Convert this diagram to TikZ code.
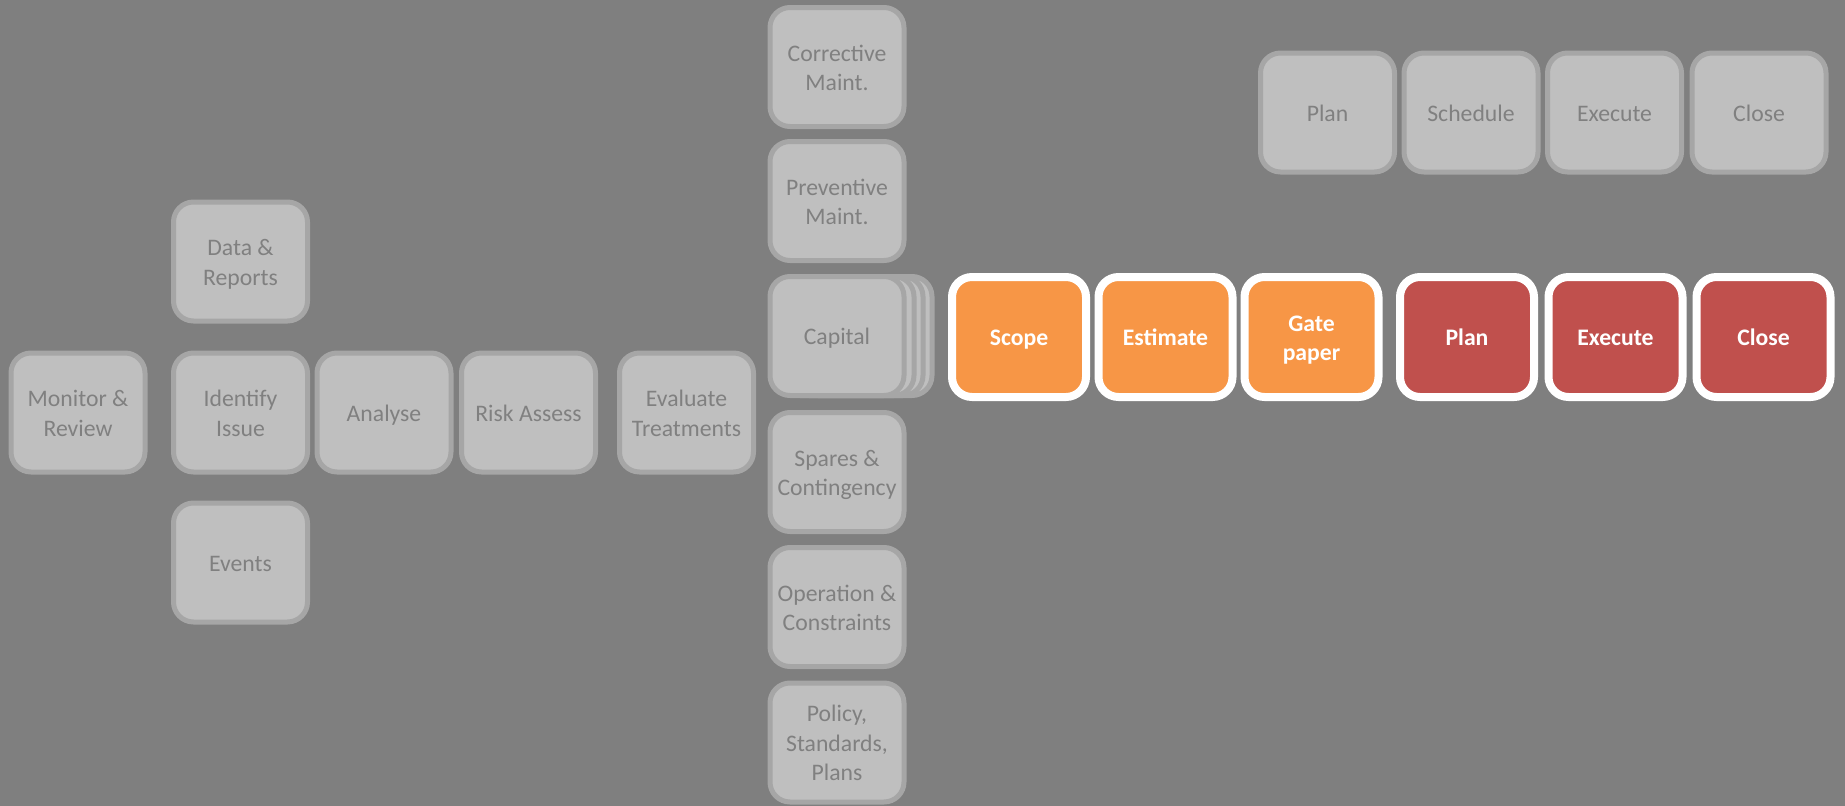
\documentclass[tikz,border=0pt]{standalone}
\usepackage{fontspec}
\setmainfont{Carlito}
\definecolor{bg}{RGB}{127,127,127}
\definecolor{cardfill}{RGB}{191,191,191}
\definecolor{cardedge}{RGB}{166,166,166}
\definecolor{cardtext}{RGB}{128,128,128}
\definecolor{orangefill}{RGB}{247,150,70}
\definecolor{redfill}{RGB}{192,80,77}
\tikzset{
  % text box: last baseline sits half the text height below the node centre,
  % each extra line adds one baseline to the height
  boxtext/.style={align=center, inner sep=0pt, text height=17.5pt, text depth=0pt},
  twolines/.style={text height=47pt},
  threelines/.style={text height=76.5pt},
  card/.style={boxtext, draw=cardedge, fill=cardfill, line width=5pt, rounded corners=20pt,
    minimum width=134pt, minimum height=119pt,
    text=cardtext, font=\fontsize{23.7}{29.5}\selectfont},
  stage/.style={boxtext, draw=white, fill=#1, line width=8pt, rounded corners=20pt,
    minimum width=134pt, minimum height=120pt,
    text=white, font=\bfseries\fontsize{23.7}{29.5}\selectfont},
}
\begin{document}
\begin{tikzpicture}[x=1pt,y=-1pt]
  \fill[bg] (0,0) rectangle (1845,806);
  \useasboundingbox (0,0) rectangle (1845,806);

  % issue identification and assessment
  \node[card,twolines] (monitor)  at (78,412.5)    {Monitor \&\\Review};
  \node[card,twolines] (data)     at (240.5,261.5) {Data \&\\Reports};
  \node[card,twolines] (identify) at (240.5,412.5) {Identify\\Issue};
  \node[card] (events)   at (240.5,562.5) {Events};
  \node[card] (analyse)  at (384,412.5)   {Analyse};
  \node[card] (risk)     at (528.5,412.5) {Risk Assess};
  \node[card,twolines] (evaluate) at (686.5,412.5) {Evaluate\\Treatments};

  % treatment options
  \node[card,twolines] (corrective) at (837,67)  {Corrective\\Maint.};
  \node[card,twolines] (preventive) at (837,201) {Preventive\\Maint.};
  \node[card] (capthree)   at (865,336) {};
  \node[card] (captwo)     at (856,336) {};
  \node[card] (capone)     at (847,336) {};
  \node[card] (capital)    at (837,336) {Capital};
  \node[card,twolines] (spares)     at (837,472) {Spares \&\\Contingency};
  \node[card,twolines] (operation)  at (837,607) {Operation \&\\Constraints};
  \node[card,threelines] (policy)   at (837,742.5) {Policy,\\Standards,\\Plans};

  % maintenance work flow
  \node[card] (mplan)     at (1327.5,112.5) {Plan};
  \node[card] (mschedule) at (1471,112.5)   {Schedule};
  \node[card] (mexecute)  at (1614.5,112.5) {Execute};
  \node[card] (mclose)    at (1759,112.5)   {Close};

  % capital project flow
  \node[stage=orangefill] (scope)    at (1019,337)   {Scope};
  \node[stage=orangefill] (estimate) at (1165.5,337) {Estimate};
  \node[stage=orangefill,twolines] (gate) at (1311.5,337) {Gate\\paper};
  \node[stage=redfill]    (pplan)    at (1467,337)   {Plan};
  \node[stage=redfill]    (pexecute) at (1615.5,337) {Execute};
  \node[stage=redfill]    (pclose)   at (1763.5,337) {Close};
\end{tikzpicture}
\end{document}
